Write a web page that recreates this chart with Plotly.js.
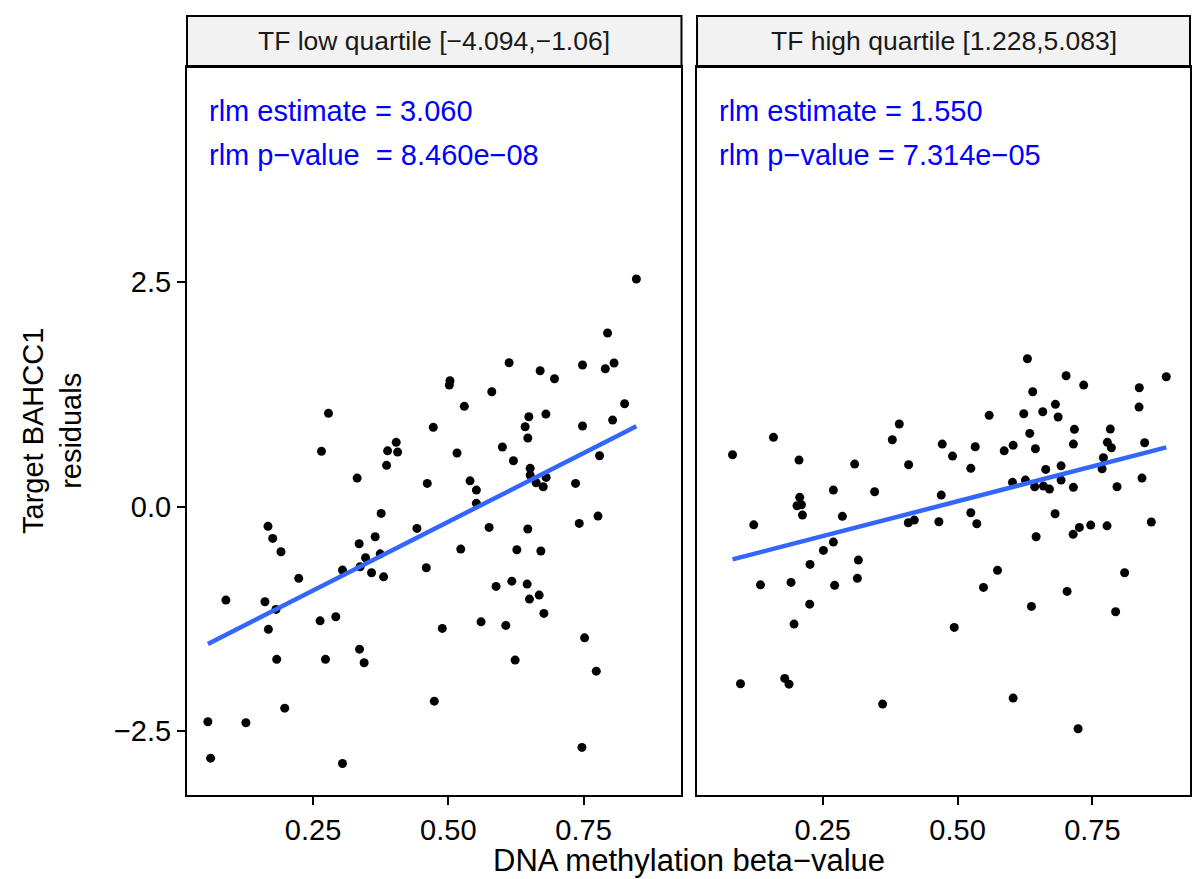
<!DOCTYPE html>
<html><head><meta charset="utf-8">
<script src="https://cdn.plot.ly/plotly-3.0.1.min.js"></script>
<style>html,body{margin:0;padding:0;background:#fff;}#chart{width:1199px;height:879px;}</style>
</head><body><div id="chart"></div>
<script>
// ---- data ----
const panelTitles = ["TF low quartile [\u22124.094,\u22121.06]", "TF high quartile [1.228,5.083]"];
const lowX = [0.0556,0.0606,0.0889,0.1259,0.1611,0.1815,0.2235,0.1674,0.2630,0.2920,
  0.1828,0.2730,0.3359,0.3444,0.1976,0.3044,0.4741,0.2785,0.2656,0.4037,
  0.3878,0.4063,0.3859,0.3315,0.4722,0.4611,0.3759,0.1667,0.1754,0.1907,
  0.3352,0.3648,0.4420,0.3470,0.3741,0.3370,0.3044,0.3581,0.3804,0.4593,
  0.8476,0.7944,0.6124,0.7481,0.7902,0.8063,0.6698,0.6963,0.5031,0.5019,
  0.5804,0.5296,0.8259,0.6489,0.6420,0.6804,0.6470,0.7481,0.8037,0.5161,
  0.6000,0.6204,0.7796,0.6513,0.5402,0.5519,0.6513,0.6624,0.6809,0.6754,
  0.7352,0.5519,0.5754,0.6470,0.7420,0.7767,0.5230,0.6267,0.6711,0.5883,
  0.6174,0.6457,0.6680,0.6500,0.6767,0.4889,0.5606,0.6063,0.7519,0.6235,
  0.7735,0.7470];
const lowY = [-2.395,-2.800,-1.040,-2.406,-1.059,-1.144,-0.798,-1.366,-1.271,-1.226,
  -1.700,-1.700,-1.586,-1.738,-2.243,-2.859,-2.165,1.039,0.616,0.716,
  0.622,0.608,0.460,0.318,0.883,0.259,-0.075,-0.219,-0.353,-0.502,
  -0.413,-0.335,-0.242,-0.569,-0.525,-0.669,-0.706,-0.736,-0.781,-0.680,
  2.535,1.933,1.602,1.577,1.536,1.599,1.513,1.424,1.402,1.354,
  1.280,1.117,1.146,1.001,0.890,1.031,0.764,0.898,0.964,0.597,
  0.664,0.511,0.567,0.427,0.288,0.185,0.352,0.266,0.326,0.222,
  0.259,0.037,-0.231,-0.249,-0.186,-0.105,-0.472,-0.480,-0.494,-0.888,
  -0.829,-0.862,-0.984,-1.029,-1.188,-1.355,-1.282,-1.322,-1.460,-1.708,
  -1.831,-2.680];
const highX = [0.0828,0.1587,0.2061,0.3920,0.3791,0.4717,0.3093,0.4093,0.2698,0.3463,
  0.2074,0.2024,0.2106,0.2124,0.2865,0.4698,0.1222,0.4087,0.4198,0.4654,
  0.2513,0.2698,0.3161,0.2265,0.6296,0.7013,0.7339,0.8870,0.8370,0.8365,
  0.6394,0.5587,0.6228,0.6580,0.6815,0.6865,0.6339,0.7167,0.7833,0.7148,
  0.7778,0.7852,0.8469,0.5328,0.6031,0.5865,0.6444,0.4907,0.5246,0.6635,
  0.6920,0.7704,0.7680,0.8420,0.6019,0.6259,0.6431,0.6593,0.6704,0.6920,0.7148,0.7957,
  0.5246,0.5357,0.6809,0.7259,0.7143,0.7469,0.7772,0.8593,0.6457,0.5741,0.8098,
  0.1346,0.1913,0.2722,0.3143,0.2259,0.1969,0.0976,0.1796,0.1876,0.3611,
  0.5481,0.7031,0.6370,0.7931,0.4939,0.6031,0.7235];
const highY = [0.578,0.772,0.519,0.920,0.745,0.697,0.474,0.467,0.185,0.166,
  0.104,0.010,0.021,-0.094,-0.108,0.129,-0.202,-0.179,-0.149,-0.168,
  -0.487,-0.394,-0.595,-0.643,1.647,1.458,1.354,1.447,1.324,1.109,
  1.280,1.017,1.035,1.057,1.139,0.998,0.816,0.861,0.864,0.697,
  0.716,0.656,0.712,0.667,0.683,0.622,0.645,0.563,0.427,0.415,
  0.455,0.545,0.422,0.318,0.271,0.296,0.222,0.229,0.196,0.296,0.215,0.222,
  -0.068,-0.190,-0.079,-0.231,-0.308,-0.205,-0.213,-0.171,-0.335,-0.709,-0.736,
  -0.870,-0.843,-0.876,-0.798,-1.085,-1.307,-1.972,-1.912,-1.976,-2.198,
  -0.899,-0.943,-1.110,-1.170,-1.344,-2.131,-2.473];
const rlmEstimates = [3.060, 1.550];
const rlmEstimateLabels = ["3.060", "1.550"];
const rlmPvalueLabels = ["8.460e\u221208", "7.314e\u221205"];
const fitIntercepts = [-1.698, -0.715];
const xTickVals = [0.25, 0.50, 0.75];
const xTickText = ["0.25", "0.50", "0.75"];
const yTickVals = [-2.5, 0, 2.5];
const yTickText = ["\u22122.5", "0.0", "2.5"];

// ---- build ----
const FONT = "Liberation Sans, Arial, Helvetica, sans-serif";
function fitLine(xs, b0, b1) {
  const lo = Math.min(...xs), hi = Math.max(...xs);
  return {x: [lo, hi], y: [b0 + b1 * lo, b0 + b1 * hi]};
}
const l1 = fitLine(lowX, fitIntercepts[0], rlmEstimates[0]);
const l2 = fitLine(highX, fitIntercepts[1], rlmEstimates[1]);
const pts = {color: "#000000", size: 9};
const traces = [
  {x: lowX, y: lowY, type: "scatter", mode: "markers", marker: pts, xaxis: "x", yaxis: "y", hoverinfo: "x+y"},
  {x: l1.x, y: l1.y, type: "scatter", mode: "lines", line: {color: "#3366FF", width: 4.5}, xaxis: "x", yaxis: "y"},
  {x: highX, y: highY, type: "scatter", mode: "markers", marker: pts, xaxis: "x2", yaxis: "y2", hoverinfo: "x+y"},
  {x: l2.x, y: l2.y, type: "scatter", mode: "lines", line: {color: "#3366FF", width: 4.5}, xaxis: "x2", yaxis: "y2"}
];
const XR = [0.017, 0.931], YR = [-3.21, 4.895];
const D1 = [0, 0.4930], D2 = [0.5085, 1];
const xBase = {range: XR, tickvals: xTickVals, ticktext: xTickText, ticks: "outside", ticklen: 8, tickwidth: 2,
  tickcolor: "#000", showline: true, mirror: true, linewidth: 2, linecolor: "#000", showgrid: false, zeroline: false,
  tickfont: {family: FONT, size: 29, color: "#000"}, fixedrange: true};
const yBase = {range: YR, tickvals: yTickVals, ticktext: yTickText, ticks: "outside", ticklen: 8, tickwidth: 2,
  tickcolor: "#000", showline: true, mirror: true, linewidth: 2, linecolor: "#000", showgrid: false, zeroline: false,
  tickfont: {family: FONT, size: 29, color: "#000"}, fixedrange: true};
const stripTop = 1.0701;
const annotations = [];
const shapes = [];
[D1, D2].forEach((d, i) => {
  shapes.push({type: "rect", xref: "paper", yref: "paper", x0: d[0], x1: d[1], y0: 1.0, y1: stripTop,
    fillcolor: "#F2F2F2", line: {color: "#000", width: 2}, layer: "below"});
  annotations.push({xref: "paper", yref: "paper", x: (d[0] + d[1]) / 2, y: (1.0 + stripTop) / 2,
    text: panelTitles[i], showarrow: false, xanchor: "center", yanchor: "middle",
    font: {family: FONT, size: 26.5, color: "#1A1A1A"}});
  const xr = i === 0 ? "x" : "x2", yr = i === 0 ? "y" : "y2";
  annotations.push({xref: xr, yref: yr, x: 0.054, y: 4.405, text: "rlm estimate = " + rlmEstimateLabels[i],
    showarrow: false, xanchor: "left", yanchor: "middle", font: {family: FONT, size: 29, color: "#0000FF"}});
  annotations.push({xref: xr, yref: yr, x: 0.054, y: 3.915,
    text: "rlm p\u2212value " + (i === 0 ? "\u00A0" : "") + "= " + rlmPvalueLabels[i],
    showarrow: false, xanchor: "left", yanchor: "middle", font: {family: FONT, size: 29, color: "#0000FF"}});
});
annotations.push({xref: "paper", yref: "paper", x: 0.5, y: -0.09, text: "DNA methylation beta\u2212value",
  showarrow: false, xanchor: "center", yanchor: "middle", font: {family: FONT, size: 31, color: "#000"}});
annotations.push({xref: "paper", yref: "paper", x: -0.1346, y: 0.5, text: "Target BAHCC1<br>residuals",
  textangle: -90, showarrow: false, xanchor: "center", yanchor: "middle", font: {family: FONT, size: 29, color: "#000"}});

const layout = {
  width: 1199, height: 879,
  margin: {l: 187, r: 9, t: 67, b: 84},
  paper_bgcolor: "#fff", plot_bgcolor: "#fff",
  showlegend: false,
  xaxis: Object.assign({}, xBase, {domain: D1, anchor: "y"}),
  xaxis2: Object.assign({}, xBase, {domain: D2, anchor: "y2"}),
  yaxis: Object.assign({}, yBase, {domain: [0, 1], anchor: "x"}),
  yaxis2: Object.assign({}, yBase, {domain: [0, 1], anchor: "x2", showticklabels: false, ticks: ""}),
  shapes: shapes, annotations: annotations
};
Plotly.newPlot("chart", traces, layout, {displayModeBar: false, staticPlot: true});
</script></body></html>
